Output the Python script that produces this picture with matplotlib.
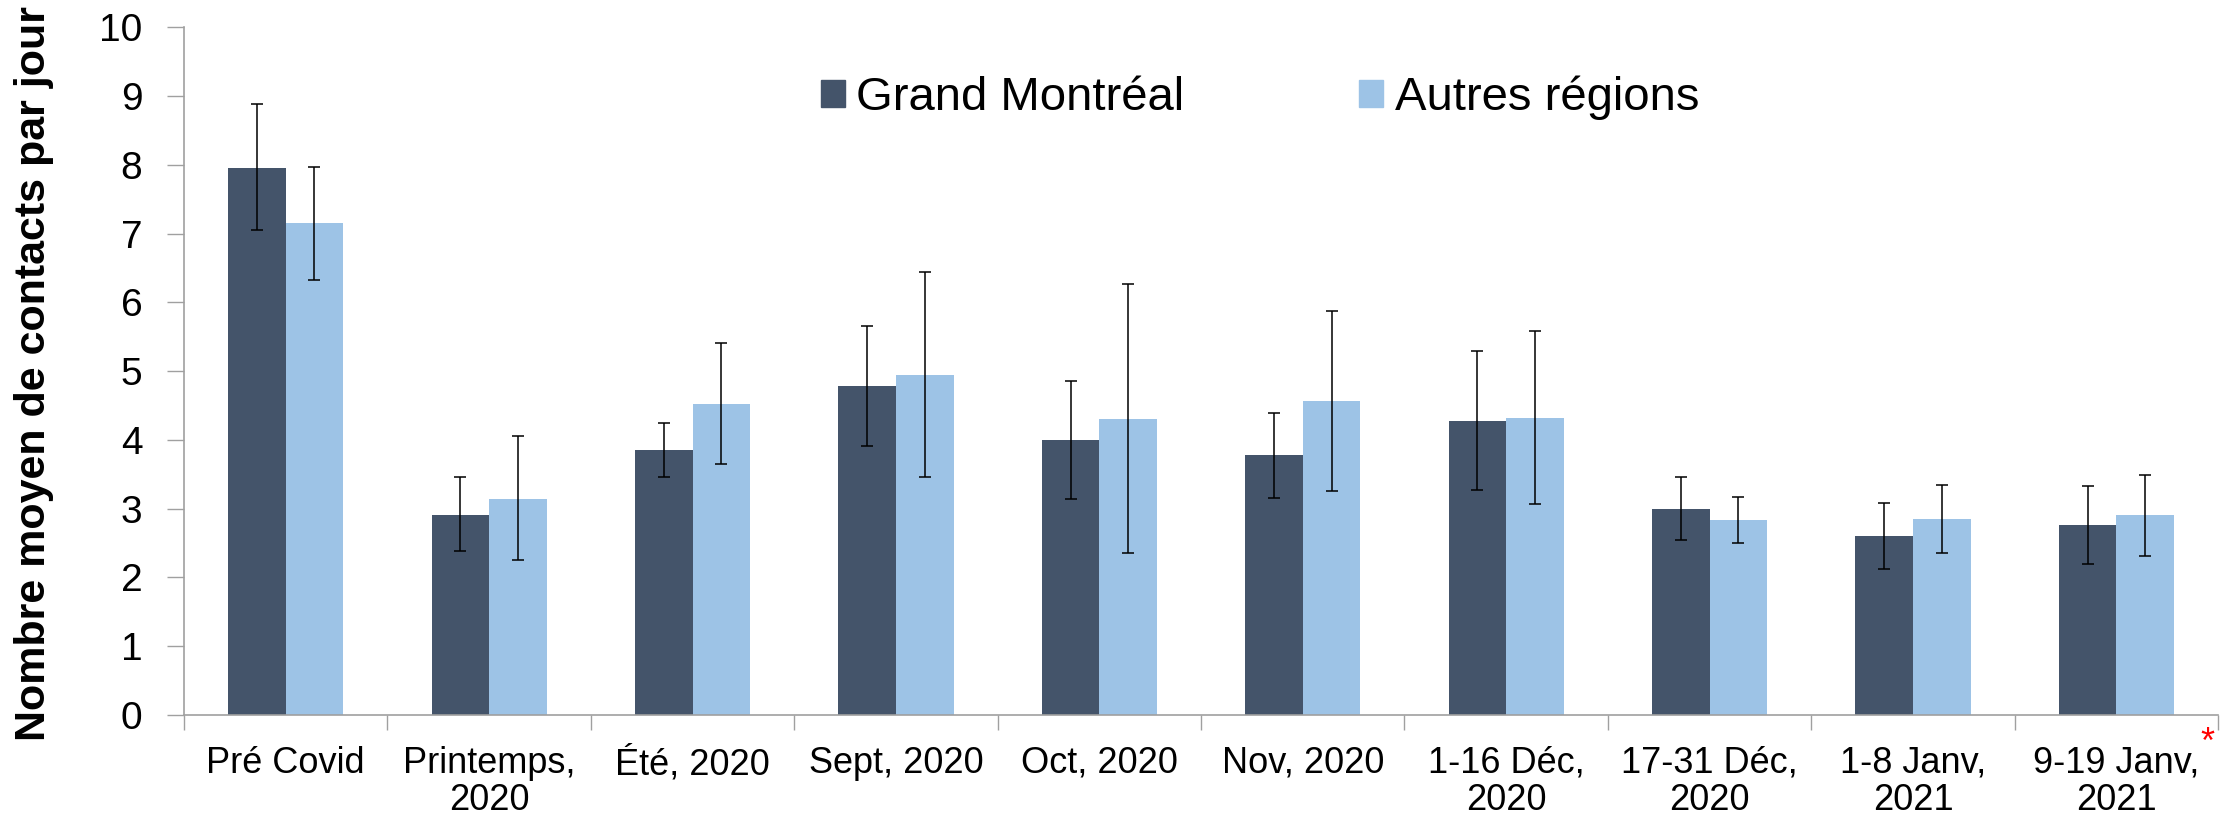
import numpy as np
import matplotlib
matplotlib.use('Agg')
import matplotlib.pyplot as plt
from matplotlib.patches import Patch
from matplotlib.transforms import blended_transform_factory

plt.rcParams['font.family'] = ['Liberation Sans', 'DejaVu Sans']

# periods on the x axis
categories = ['Pré Covid', 'Printemps,\n2020', 'Été, 2020', 'Sept, 2020',
              'Oct, 2020', 'Nov, 2020', '1-16 Déc,\n2020', '17-31 Déc,\n2020',
              '1-8 Janv,\n2021', '9-19 Janv,\n2021']

# Grand Montréal: mean and confidence bounds
gm_mean = [7.96, 2.91, 3.85, 4.79, 4.00, 3.78, 4.28, 3.00, 2.60, 2.76]
gm_low  = [7.05, 2.39, 3.46, 3.91, 3.14, 3.16, 3.27, 2.55, 2.12, 2.19]
gm_high = [8.89, 3.46, 4.25, 5.66, 4.86, 4.39, 5.29, 3.46, 3.08, 3.33]

# Autres régions: mean and confidence bounds
ar_mean = [7.15, 3.14, 4.52, 4.95, 4.31, 4.56, 4.32, 2.83, 2.85, 2.91]
ar_low  = [6.32, 2.25, 3.65, 3.46, 2.36, 3.26, 3.07, 2.50, 2.35, 2.31]
ar_high = [7.97, 4.05, 5.41, 6.44, 6.26, 5.87, 5.59, 3.17, 3.34, 3.49]

DARK  = '#44546A'
LIGHT = '#9DC3E6'
AXIS  = '#A0A0A0'

x = np.arange(len(categories))
w = 0.283

fig = plt.figure(figsize=(22.25, 8.19), dpi=100)
ax = fig.add_axes([0.0827, 0.127, 0.9142, 0.8398])

def yerr(mean, low, high):
    m = np.array(mean)
    return [m - np.array(low), np.array(high) - m]

err_kw = dict(ecolor='black', elinewidth=1.1, capsize=4, capthick=1.1)
ax.bar(x - w/2, gm_mean, width=w, color=DARK, yerr=yerr(gm_mean, gm_low, gm_high),
       error_kw=err_kw, zorder=2)
ax.bar(x + w/2, ar_mean, width=w, color=LIGHT, yerr=yerr(ar_mean, ar_low, ar_high),
       error_kw=err_kw, zorder=2)

ax.set_xlim(-0.5, len(categories) - 0.5)
ax.set_ylim(0, 10)
ax.set_yticks(range(0, 11))
ax.tick_params(axis='y', labelsize=28, length=12, width=1, color=AXIS,
               direction='out', pad=18)

ax.set_xticks(x)
ax.set_xticklabels(categories, fontsize=26, linespacing=1.1)
ax.set_xticks(np.arange(-0.5, len(categories)), minor=True)
ax.tick_params(axis='x', which='major', length=0, pad=22)
ax.tick_params(axis='x', which='minor', length=11, width=1, color=AXIS,
               direction='out')

for sp in ['top', 'right']:
    ax.spines[sp].set_visible(False)
for sp in ['left', 'bottom']:
    ax.spines[sp].set_color(AXIS)
    ax.spines[sp].set_linewidth(1.2)

ax.set_ylabel('Nombre moyen de contacts par jour', fontsize=31,
              fontweight='bold')
ax.yaxis.set_label_coords(-0.064, 0.496)

# red asterisk next to the last period label
tr = blended_transform_factory(ax.transData, ax.transAxes)
ax.text(len(categories) - 0.554, -0.042, '*', color='red', fontsize=26,
        transform=tr, ha='center', va='center')

handles = [Patch(color=DARK, label='Grand Montréal'),
           Patch(color=LIGHT, label='Autres régions')]
ax.legend(handles=handles, loc='center', bbox_to_anchor=(0.529, 0.897),
          ncol=2, frameon=False, fontsize=34, handlelength=0.5,
          handleheight=0.5, handletextpad=0.25, columnspacing=3.7)

fig.savefig('out.png', dpi=100)
